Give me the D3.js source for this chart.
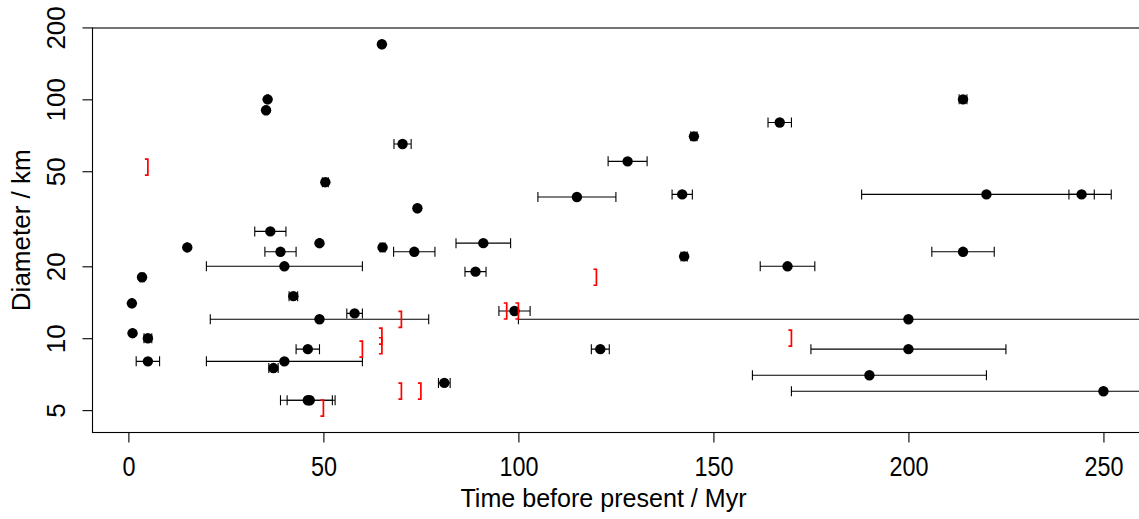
<!DOCTYPE html>
<html>
<head>
<meta charset="utf-8">
<script src="https://cdn.jsdelivr.net/npm/d3@7"></script>
<style>
  html, body { margin: 0; padding: 0; background: #fff; }
  svg { display: block; }
  text { font-family: "Liberation Sans", Arial, Helvetica, sans-serif; fill: #000; }
</style>
</head>
<body>
<svg id="chart" width="1139" height="519"></svg>
<script>
// ---- data: dated impact structures (age in Myr, age range, diameter in km)
const ages      = [65.0, 35.7, 35.3, 214.0, 167.0, 70.3, 145.0, 128.0, 50.5, 115.0, 142.0, 220.0, 244.4, 74.1, 36.4, 15.1, 91.0, 49.0, 65.17, 39.0, 73.3, 142.5, 214.0, 40.0, 89.0, 169.0, 3.5, 42.3, 0.9, 99.0, 58.0, 49.0, 200.0, 1.07, 5.0, 46.0, 121.0, 200.0, 5.0, 40.0, 37.2, 190.0, 81.0, 250.0, 46.0, 46.5];
const ageLow    = [64.95, 35.5, 35.0, 213.0, 164.0, 68.1, 144.2, 123.0, 49.74, 105.0, 139.4, 188.0, 241.15, 74.0, 32.4, 15.0, 84.0, 48.8, 64.53, 35.0, 68.0, 141.7, 206.0, 20.0, 86.3, 162.0, 3.0, 41.2, 0.8, 95.0, 56.0, 21.0, 100.0, 1.0, 4.0, 43.0, 118.7, 175.0, 2.0, 20.0, 36.0, 160.0, 79.5, 170.0, 39.0, 40.7];
const ageHigh   = [65.05, 35.9, 35.6, 215.0, 170.0, 72.5, 145.8, 133.0, 51.26, 125.0, 144.6, 252.0, 247.65, 74.2, 40.4, 15.2, 98.0, 49.2, 65.81, 43.0, 78.6, 143.3, 222.0, 60.0, 91.7, 176.0, 4.0, 43.4, 1.0, 103.0, 60.0, 77.0, 300.0, 1.14, 6.0, 49.0, 123.3, 225.0, 8.0, 60.0, 38.4, 220.0, 82.5, 330.0, 53.0, 52.3];
const diameters = [170, 100, 90, 100, 80, 65, 70, 55, 45, 39, 40, 40, 40, 35, 28, 24, 25, 25, 24, 23, 23, 22, 23, 20, 19, 20, 18, 15, 14, 13, 12.7, 12, 12, 10.5, 10, 9, 9, 9, 8, 8, 7.5, 7, 6.5, 6, 5.5, 5.5];

// structures with only an upper age limit (drawn as red brackets)
const limitAges      = [5, 70, 97, 100, 65, 65, 60, 70, 75, 120, 170, 50];
const limitDiameters = [52, 12, 13, 13, 10.2, 9.3, 9, 6, 6, 18, 10, 5.1];

const xTicks = [0, 50, 100, 150, 200, 250];
const yTicks = [5, 10, 20, 50, 100, 200];
const xTitle = "Time before present / Myr";
const yTitle = "Diameter / km";

// ---- layout
const W = 1139, H = 519;
const plot = { left: 92.5, right: 1144, top: 28, bottom: 432.5 };

const x = d3.scaleLinear().domain([-9.2, 260.4]).range([plot.left, plot.right]);
const y = d3.scaleLog().domain([4.03, 198.9]).range([plot.bottom, plot.top]);

const svg = d3.select("#chart");

const pts = ages.map((a, i) => ({ a, lo: ageLow[i], hi: ageHigh[i], d: diameters[i] }));
const lims = limitAges.map((a, i) => ({ a, d: limitDiameters[i] }));

const gData = svg.append("g");

// error bars
const capH = 5;
gData.selectAll("path.err").data(pts).join("path")
  .attr("class", "err")
  .attr("fill", "none").attr("stroke", "#000").attr("stroke-width", 1.1)
  .attr("d", p => {
    const yy = y(p.d), x0 = x(p.lo), x1 = x(p.hi);
    return `M${x0},${yy}H${x1}M${x0},${yy - capH}V${yy + capH}M${x1},${yy - capH}V${yy + capH}`;
  });

// points
gData.selectAll("circle.pt").data(pts).join("circle")
  .attr("class", "pt")
  .attr("cx", p => x(p.a)).attr("cy", p => y(p.d)).attr("r", 5.2)
  .attr("fill", "#000");

// upper-limit brackets
gData.selectAll("path.lim").data(lims).join("path")
  .attr("class", "lim")
  .attr("fill", "none").attr("stroke", "#ff0000").attr("stroke-width", 1.7)
  .attr("d", p => {
    const xx = x(p.a), yy = y(p.d);
    return `M${xx - 3},${yy - 8}H${xx}V${yy + 8}H${xx - 3}`;
  });

// box
svg.append("rect")
  .attr("x", plot.left).attr("y", plot.top)
  .attr("width", plot.right - plot.left).attr("height", plot.bottom - plot.top)
  .attr("fill", "none").attr("stroke", "#000").attr("stroke-width", 1.1);

// x axis
const xAxis = d3.axisBottom(x).tickValues(xTicks).tickSize(10).tickFormat(d3.format("d"));
const gx = svg.append("g").attr("transform", `translate(0,${plot.bottom})`).call(xAxis);
gx.select(".domain").remove();
gx.selectAll(".tick line").attr("stroke", "#000").attr("stroke-width", 1.1);
gx.selectAll(".tick text").attr("y", 0).attr("dy", null)
  .attr("transform", "translate(0,43) scale(0.9,1.03)")
  .style("font-size", "26px").style("font-family", "Liberation Sans, Arial, sans-serif");

// y axis
const yAxis = d3.axisLeft(y).tickValues(yTicks).tickSize(10).tickFormat(d3.format("d"));
const gy = svg.append("g").attr("transform", `translate(${plot.left},0)`).call(yAxis);
gy.select(".domain").remove();
gy.selectAll(".tick line").attr("stroke", "#000").attr("stroke-width", 1.1);
gy.selectAll(".tick text")
  .attr("x", 0).attr("dy", null).attr("y", 0)
  .attr("text-anchor", "middle")
  .attr("transform", `translate(${65 - plot.left},0) rotate(-90)`)
  .style("font-size", "26px").style("font-family", "Liberation Sans, Arial, sans-serif");

// axis titles
svg.append("text")
  .attr("transform", "translate(603.5,507) scale(0.965,1.02)")
  .attr("text-anchor", "middle")
  .style("font-size", "26px")
  .text(xTitle);

svg.append("text")
  .attr("transform", `translate(30,${(plot.top + plot.bottom) / 2}) rotate(-90)`)
  .attr("text-anchor", "middle")
  .style("font-size", "26px")
  .text(yTitle);
</script>
</body>
</html>
